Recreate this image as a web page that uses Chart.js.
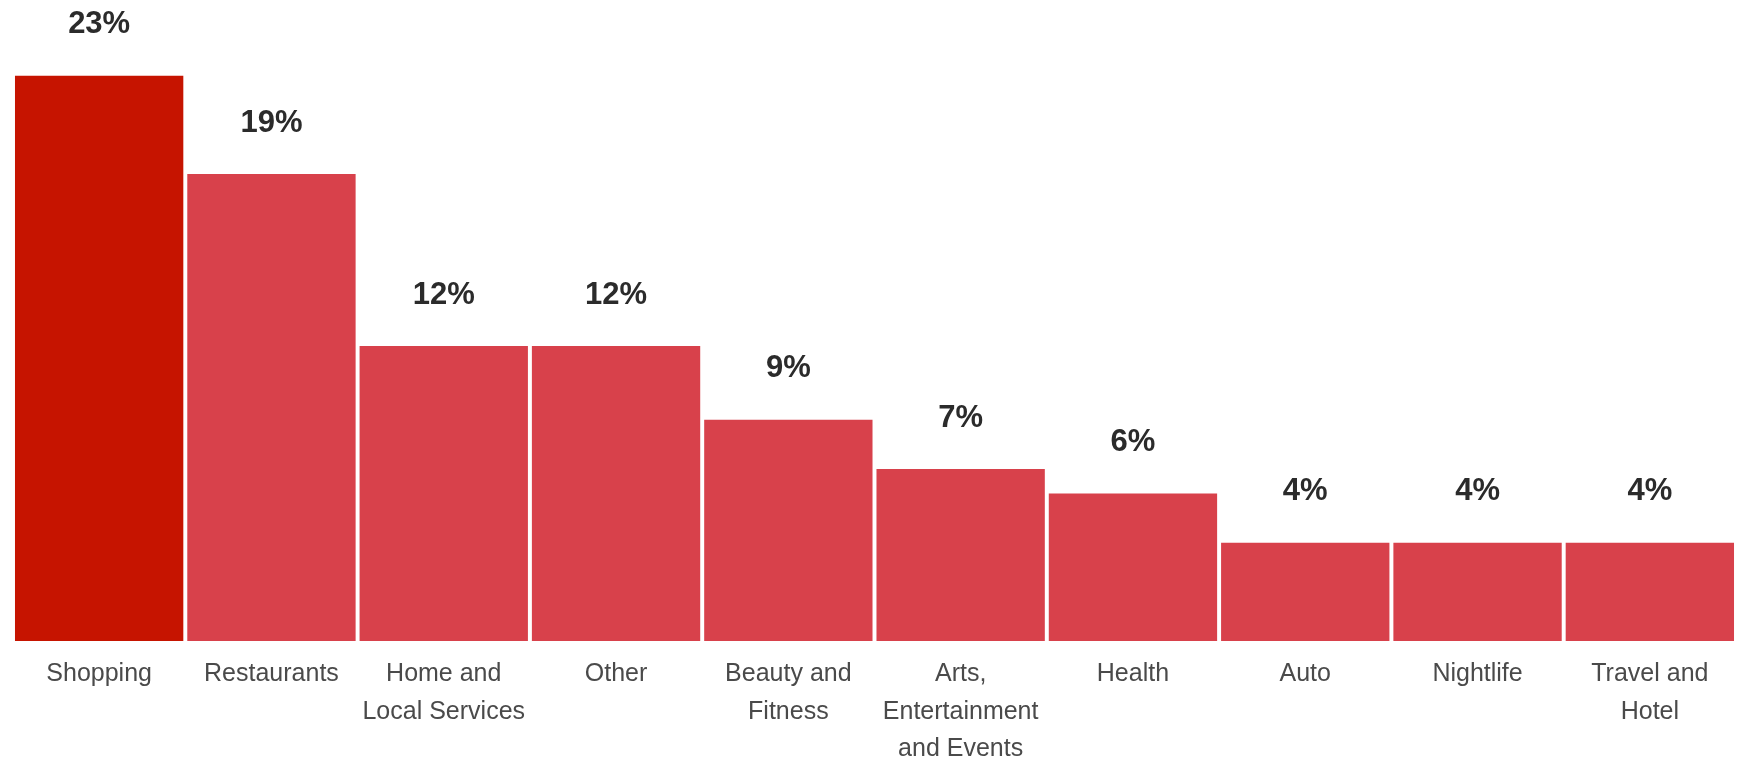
<!DOCTYPE html>
<html>
<head>
<meta charset="utf-8">
<script src="https://cdn.jsdelivr.net/npm/chart.js@4/dist/chart.umd.min.js"></script>
<style>
  html, body { margin: 0; padding: 0; background: #fff; }
  #wrap { width: 1741px; height: 761px; position: relative; }
</style>
</head>
<body>
<div id="wrap"><canvas id="chart"></canvas></div>
<script>
// categories and shares (%)
const categories = [
    'Shopping',
    'Restaurants',
    ['Home and', 'Local Services'],
    'Other',
    ['Beauty and', 'Fitness'],
    ['Arts,', 'Entertainment', 'and Events'],
    'Health',
    'Auto',
    'Nightlife',
    ['Travel and', 'Hotel']
];
const shares = [23, 19, 12, 12, 9, 7, 6, 4, 4, 4];
const barColors = ['#c61400', '#d8414b', '#d8414b', '#d8414b', '#d8414b', '#d8414b', '#d8414b', '#d8414b', '#d8414b', '#d8414b'];

// draws the "23%" style labels above each bar
const valueLabels = {
    id: 'valueLabels',
    afterDatasetsDraw(chart) {
        const ctx = chart.ctx;
        const meta = chart.getDatasetMeta(0);
        ctx.save();
        ctx.font = 'bold 31px "Liberation Sans", Arial, sans-serif';
        ctx.fillStyle = '#2b2b2b';
        ctx.textAlign = 'center';
        ctx.textBaseline = 'middle';
        meta.data.forEach((bar, i) => {
            ctx.fillText(shares[i] + '%', bar.x, bar.y - 51);
        });
        ctx.restore();
    }
};

new Chart(document.getElementById('chart'), {
    type: 'bar',
    data: {
        labels: categories,
        datasets: [{
            data: shares,
            backgroundColor: barColors,
            borderWidth: 0,
            barPercentage: 0.977,
            categoryPercentage: 1
        }]
    },
    options: {
        responsive: true,
        maintainAspectRatio: false,
        animation: false,
        layout: { padding: { left: 13, right: 5, top: 2, bottom: 0 } },
        plugins: {
            legend: { display: false },
            tooltip: { enabled: false }
        },
        scales: {
            y: {
                display: false,
                min: 0,
                max: 26
            },
            x: {
                grid: { display: false },
                border: { display: false },
                afterFit(axis) { axis.height = 120; },
                ticks: {
                    autoSkip: false,
                    maxRotation: 0,
                    padding: 6,
                    color: '#4a4a4a',
                    font: { family: '"Liberation Sans", Arial, sans-serif', size: 25, lineHeight: 1.51 }
                }
            }
        }
    },
    plugins: [valueLabels]
});
</script>
</body>
</html>
